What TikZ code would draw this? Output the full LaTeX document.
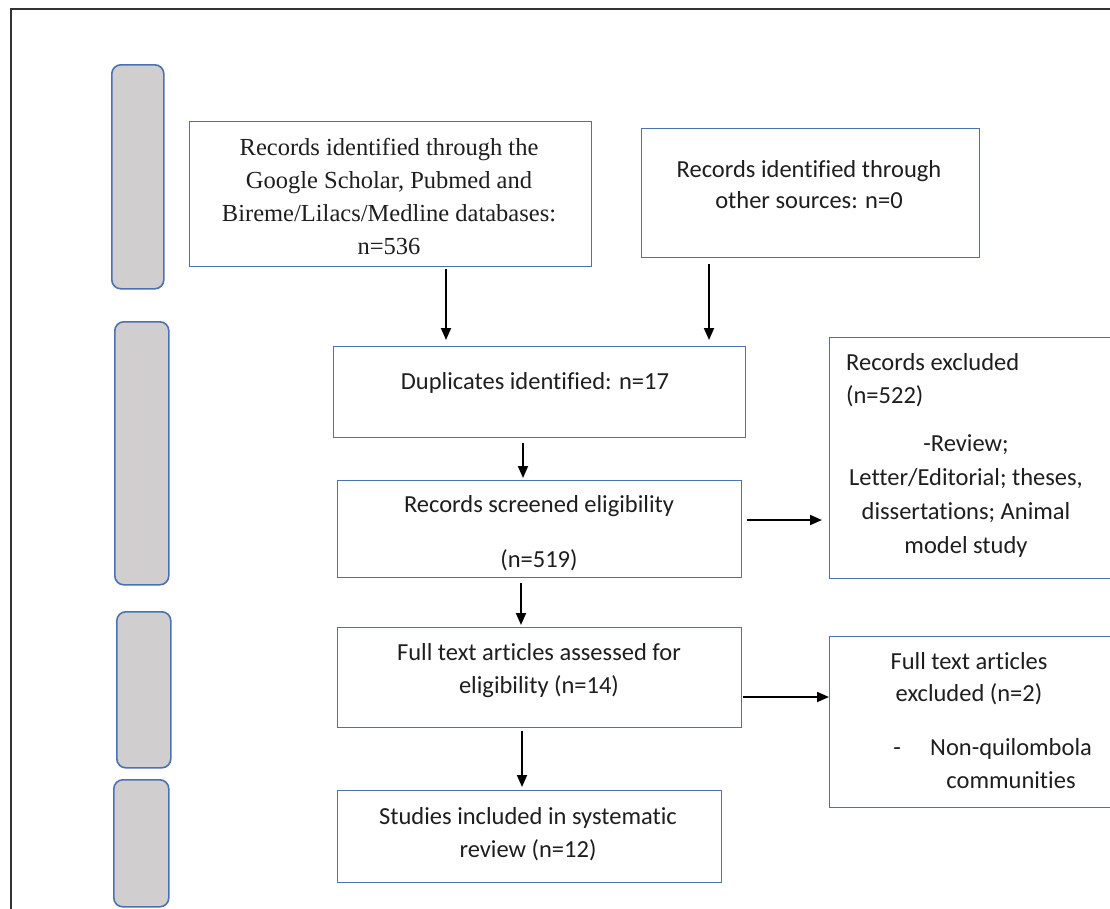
\documentclass[tikz,border=0pt]{standalone}
\usepackage{fontspec}
\setmainfont[Ligatures=NoCommon]{Carlito}
\newfontfamily\tnr{Liberation Serif}
\usetikzlibrary{arrows.meta}
\definecolor{boxblue}{HTML}{4A72B0}
\definecolor{stagegray}{HTML}{D0CECE}
\definecolor{txt}{HTML}{1E1E1E}
\definecolor{framecol}{HTML}{333333}
\begin{document}
\begin{tikzpicture}[x=1pt,y=-1pt,
  flowbox/.style={draw=boxblue, line width=1.3pt, fill=white, inner sep=0pt, anchor=north west},
  stagebox/.style={draw=boxblue, line width=1.6pt, fill=stagegray, rounded corners=9pt, inner sep=0pt, anchor=north west},
  lbl/.style={font=\fontsize{24.5}{33}\selectfont, text=txt, align=center, inner sep=0pt},
  serlbl/.style={font=\tnr\fontsize{24.5}{33}\selectfont, text=txt, align=center, inner sep=0pt},
  arr/.style={-{Triangle[length=12pt,width=10pt]}, line width=1.8pt, black}]
\useasboundingbox (0,0) rectangle (1110,908);
\clip (0,0) rectangle (1110,908);
% outer frame
\draw[framecol, line width=2.4pt] (11,920) -- (11,9) -- (1130,9);
% stage boxes
\node[stagebox, minimum width=52pt, minimum height=224pt] (s1) at (111,64) {};
\node[stagebox, minimum width=54pt, minimum height=263pt] (s2) at (114,321) {};
\node[stagebox, minimum width=54pt, minimum height=156pt] (s3) at (116,611) {};
\node[stagebox, minimum width=55pt, minimum height=127pt] (s4) at (113,779) {};
% flow boxes
\node[flowbox, minimum width=402pt, minimum height=145pt] (A) at (189,121) {};
\node[flowbox, minimum width=338pt, minimum height=129pt] (B) at (641,128) {};
\node[flowbox, minimum width=412pt, minimum height=91pt] (C) at (333,346) {};
\node[flowbox, minimum width=404pt, minimum height=97pt] (D) at (337,480) {};
\node[flowbox, minimum width=296pt, minimum height=241pt] (E) at (829,337) {};
\node[flowbox, minimum width=404pt, minimum height=100pt] (F) at (337,627) {};
\node[flowbox, minimum width=296pt, minimum height=171pt] (G) at (829,636) {};
\node[flowbox, minimum width=384pt, minimum height=92pt] (H) at (337,790) {};
% texts
\node[serlbl] (tA) at (389,196) {Records identified through the\\Google Scholar, Pubmed and\\Bireme/Lilacs/Medline databases:\\n=536};
\node[lbl, font=\fontsize{24.5}{31}\selectfont] (tB) at (809,185) {Records identified through\\other sources: n=0};
\node[lbl] (tC) at (535,383) {Duplicates identified: n=17};
\node[lbl] (tD1) at (539,506) {Records screened eligibility};
\node[lbl] (tD2) at (539,560) {(n=519)};
\node[lbl, align=left, anchor=west] (tE1) at (846,380) {Records excluded\\(n=522)};
\node[lbl, font=\fontsize{24.5}{34}\selectfont] (tE2) at (966,496) {-Review;\\Letter/Editorial; theses,\\dissertations; Animal\\model study};
\node[lbl] (tF) at (539,671) {Full text articles assessed for\\eligibility (n=14)};
\node[lbl, font=\fontsize{24.5}{32}\selectfont] (tG1) at (969,679) {Full text articles\\excluded (n=2)};
\node[lbl, anchor=base] (tG2) at (897,755) {-};
\node[lbl, anchor=base west] (tG3) at (930,755) {Non-quilombola};
\node[lbl] (tG4) at (1011,780) {communities};
\node[lbl] (tH) at (528,834) {Studies included in systematic\\review (n=12)};
% connector x positions
\coordinate (xa) at (446,0);
\coordinate (xb) at (709,0);
\coordinate (xc) at (523,0);
\coordinate (xd) at (521,0);
\coordinate (xf) at (522,0);
\coordinate (yd) at (0,520);
\coordinate (yf) at (0,697);
% connectors
\draw[arr, shorten <=2pt, shorten >=6pt] (A.south -| xa) -- (C.north -| xa);
\draw[arr, shorten <=6pt, shorten >=6pt] (B.south -| xb) -- (C.north -| xb);
\draw[arr, shorten <=5pt, shorten >=2pt] (C.south -| xc) -- (D.north -| xc);
\draw[arr, shorten <=5pt, shorten >=7pt] (D.east |- yd) -- (E.west |- yd);
\draw[arr, shorten <=5pt, shorten >=2pt] (D.south -| xd) -- (F.north -| xd);
\draw[arr, shorten <=1pt, shorten >=0pt] (F.east |- yf) -- (G.west |- yf);
\draw[arr, shorten <=3pt, shorten >=3pt] (F.south -| xf) -- (H.north -| xf);
\end{tikzpicture}
\end{document}
